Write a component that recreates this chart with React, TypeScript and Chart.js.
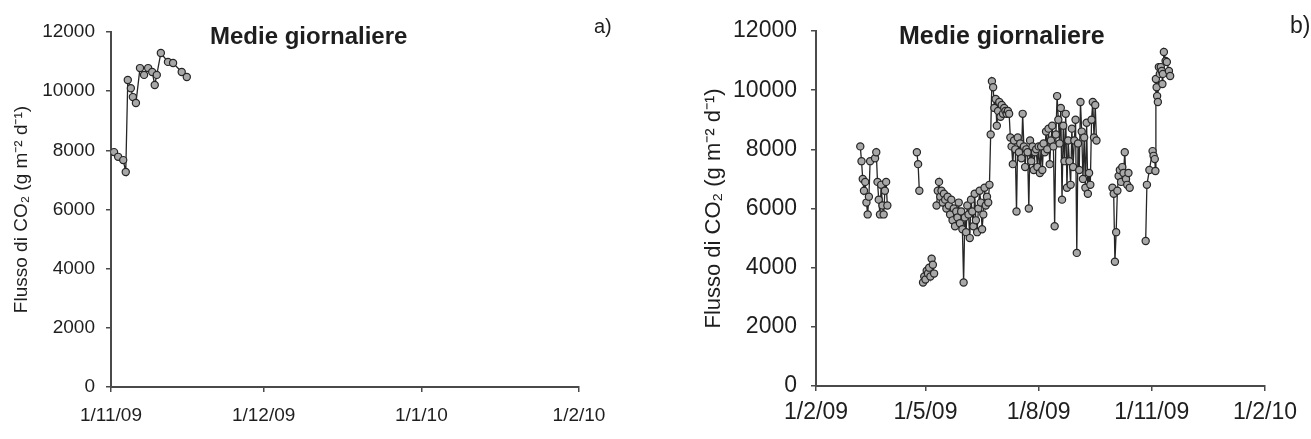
import React, { useEffect, useRef } from 'react';
import { Chart, registerables } from 'chart.js';

Chart.register(...registerables);

// ---------- axis ticks ----------
const yTickValues = [0, 2000, 4000, 6000, 8000, 10000, 12000];
// panel a: days since 1 Nov 2009
const leftTickDays = [0, 30, 61, 92];
const leftTickLabels = ['1/11/09', '1/12/09', '1/1/10', '1/2/10'];
// panel b: days since 1 Feb 2009
const rightTickDays = [0, 89, 181, 273, 365];
const rightTickLabels = ['1/2/09', '1/5/09', '1/8/09', '1/11/09', '1/2/10'];

// ---------- data ----------
// November 2009 daily means (days from 1 Nov 2009)
const novDays = [0.6, 1.4, 2.4, 2.9, 3.3, 3.9, 4.3, 4.9, 5.7, 6.5, 7.3, 8.1, 8.6, 9.0, 9.8, 11.2, 12.2, 13.9, 14.9];
const novValues = [7940, 7780, 7670, 7270, 10380, 10100, 9800, 9600, 10780, 10550, 10780, 10650, 10210, 10550, 11290, 10990, 10950, 10650, 10480];

// 2009 series, days from 1 Feb 2009
const marchDays = [36, 37, 38, 39, 40, 41, 42, 43, 44, 48, 49, 50, 51, 52, 53, 54, 55, 56, 57, 58];
const marchValues = [8100, 7600, 7000, 6600, 6900, 6200, 5800, 6400, 7600, 7700, 7900, 6900, 6300, 5800, 6800, 6100, 5800, 6600, 6900, 6100];

const lateAprilDays = [82, 83, 84];
const lateAprilValues = [7900, 7500, 6600];

const earlyMayDays = [87, 88, 89, 90, 91, 92, 93, 94, 95, 96];
const earlyMayValues = [3500, 3700, 3600, 3900, 3800, 4000, 3700, 4300, 4100, 3800];

const summerStartDay = 98;
const summerValues = [
  6100, 6600, 6900, 6400, 6600, 6200, 6500, 6300, 6000, 6400,
  6100, 5800, 6300, 5600, 6000, 5400, 5900, 5700, 6200, 5500,
  5900, 5300, 3500, 5700, 5200, 6100, 5800, 5000, 6300, 5900,
  5400, 6500, 5600, 5200, 6000, 6600, 6200, 5300, 5800, 6700,
  6100, 6400, 6200, 6800, 8500, 10300, 10100, 9400, 9700, 8800,
  9300, 9600, 9100, 9500, 9200, 9400, 9300, 9200, 9300, 9200,
  8400, 8100, 7500, 8300, 8000, 5900, 8400, 7900, 8200, 7700,
  9200, 8100, 7400, 8000, 7900, 6000, 8300, 7600, 8100, 7300,
  7900, 8000, 7400, 8100, 7200, 8100, 7300, 8200, 7900, 8600,
  8000, 8700, 7500, 8300, 8800, 8100, 5400, 8500, 9800, 9000,
  8200, 9400, 6300, 8800, 7600, 9200, 6700, 8300, 7600, 6800,
  8700, 7400, 8300, 9000, 4500, 8200, 7300, 9600, 8600, 7000,
  8400, 6700, 8900, 6500, 7200, 6800, 9000, 9600, 8400, 9500,
  8300,
];

const octoberDays = [241, 242, 243, 244, 245, 246, 247, 248, 249, 250, 251, 252, 253, 254, 255];
const octoberValues = [6700, 6500, 4200, 5200, 6600, 7100, 7300, 6900, 7400, 7200, 7900, 7000, 6800, 7200, 6700];

const lateOctDays = [268, 269, 271];
const lateOctValues = [4900, 6800, 7300];
const novOffset = 273; // 1 Nov 2009 in days from 1 Feb 2009

// ---------- helpers ----------
type Pt = { x: number; y: number | null };
const pts = (days: number[], vals: number[], off = 0): Pt[] =>
  days.map((d, i) => ({ x: d + off, y: vals[i] }));
const gap = (x: number): Pt => ({ x, y: null });

const leftData: Pt[] = pts(novDays, novValues);

const summerDays = summerValues.map((_, i) => summerStartDay + i);
const rightData: Pt[] = [
  ...pts(marchDays, marchValues),
  gap(70),
  ...pts(lateAprilDays, lateAprilValues),
  gap(85.5),
  ...pts(earlyMayDays, earlyMayValues),
  gap(97),
  ...pts(summerDays, summerValues),
  gap(235),
  ...pts(octoberDays, octoberValues),
  gap(262),
  ...pts(lateOctDays, lateOctValues),
  ...pts(novDays, novValues, novOffset),
];

const FONT = "'Liberation Sans', Arial, sans-serif";
const TXT = '#1e1e1e';
const AXIS = '#4a4a4a';

type Annot = { text: string; x: number; y: number; size: number; bold?: boolean; align?: CanvasTextAlign };

const annotPlugin = (items: Annot[]) => ({
  id: 'annot',
  afterDraw(chart: any) {
    const ctx = chart.ctx as CanvasRenderingContext2D;
    ctx.save();
    ctx.fillStyle = TXT;
    ctx.textBaseline = 'middle';
    items.forEach((it) => {
      ctx.font = `${it.bold ? 'bold ' : ''}${it.size}px ${FONT}`;
      ctx.textAlign = it.align || 'left';
      ctx.fillText(it.text, it.x, it.y);
    });
    ctx.restore();
  },
});

function buildConfig(p: {
  data: Pt[];
  xMax: number;
  tickDays: number[];
  tickLabels: string[];
  padLeft: number;
  padRight: number;
  padTop: number;
  yWidth: number;
  xHeight: number;
  tickSize: number;
  yPad: number;
  xPad: number;
  titleSize: number;
  annots: Annot[];
}): any {
  return {
    type: 'scatter',
    data: {
      datasets: [
        {
          data: p.data,
          showLine: true,
          spanGaps: false,
          borderColor: '#262626',
          borderWidth: 1.3,
          pointRadius: 3.6,
          pointBorderWidth: 1.2,
          pointBorderColor: '#262626',
          pointBackgroundColor: '#a8a8a8',
        },
      ],
    },
    options: {
      responsive: true,
      maintainAspectRatio: false,
      animation: false,
      layout: { padding: { left: p.padLeft, right: p.padRight, top: p.padTop, bottom: 0 } },
      plugins: { legend: { display: false }, tooltip: { enabled: false }, title: { display: false } },
      scales: {
        x: {
          type: 'linear',
          min: 0,
          max: p.xMax,
          afterBuildTicks: (scale: any) => {
            scale.ticks = p.tickDays.map((v) => ({ value: v }));
          },
          afterFit: (scale: any) => {
            scale.height = p.xHeight;
          },
          ticks: {
            autoSkip: false,
            maxRotation: 0,
            padding: p.xPad,
            color: TXT,
            font: { family: FONT, size: p.tickSize },
            callback: (v: number) => {
              const i = p.tickDays.indexOf(v);
              return i >= 0 ? p.tickLabels[i] : '';
            },
          },
          grid: { drawOnChartArea: false, drawTicks: true, tickLength: 5, color: AXIS, lineWidth: 1.5 },
          border: { color: AXIS, width: 2 },
        },
        y: {
          min: 0,
          max: 12000,
          afterBuildTicks: (scale: any) => {
            scale.ticks = yTickValues.map((v) => ({ value: v }));
          },
          afterFit: (scale: any) => {
            scale.width = p.yWidth;
          },
          ticks: {
            padding: p.yPad,
            color: TXT,
            font: { family: FONT, size: p.tickSize },
            callback: (v: number) => String(v),
          },
          grid: { drawOnChartArea: false, drawTicks: true, tickLength: 5, color: AXIS, lineWidth: 1.5 },
          border: { color: AXIS, width: 2 },
          title: {
            display: true,
            text: 'Flusso di CO\u2082 (g m\u207B\u00B2 d\u207B\u00B9)',
            color: TXT,
            font: { family: FONT, size: p.titleSize },
            padding: { top: 0, bottom: 0 },
          },
        },
      },
    },
    plugins: [annotPlugin(p.annots)],
  };
}

export default function App() {
  const leftRef = useRef<HTMLCanvasElement>(null);
  const rightRef = useRef<HTMLCanvasElement>(null);

  useEffect(() => {
    const left = new Chart(
      leftRef.current as HTMLCanvasElement,
      buildConfig({
        data: leftData,
        xMax: 92,
        tickDays: leftTickDays,
        tickLabels: leftTickLabels,
        padLeft: 10,
        padRight: 71,
        padTop: 32,
        yWidth: 101,
        xHeight: 52,
        tickSize: 19,
        yPad: 11,
        xPad: 12,
        titleSize: 19,
        annots: [
          { text: 'Medie giornaliere', x: 210, y: 37, size: 24, bold: true },
          { text: 'a)', x: 594, y: 27, size: 20 },
        ],
      })
    );
    const right = new Chart(
      rightRef.current as HTMLCanvasElement,
      buildConfig({
        data: rightData,
        xMax: 365,
        tickDays: rightTickDays,
        tickLabels: rightTickLabels,
        padLeft: 51,
        padRight: 46,
        padTop: 31,
        yWidth: 115,
        xHeight: 53,
        tickSize: 23,
        yPad: 14,
        xPad: 8,
        titleSize: 22,
        annots: [
          { text: 'Medie giornaliere', x: 249, y: 37, size: 25, bold: true },
          { text: 'b)', x: 640, y: 27, size: 23 },
        ],
      })
    );
    return () => {
      left.destroy();
      right.destroy();
    };
  }, []);

  return (
    <div style={{ position: 'absolute', left: 0, top: 0, width: 1311, height: 439, background: '#fff', overflow: 'hidden' }}>
      <div style={{ position: 'absolute', left: 0, top: 0, width: 650, height: 439 }}>
        <canvas ref={leftRef} />
      </div>
      <div style={{ position: 'absolute', left: 650, top: 0, width: 661, height: 439 }}>
        <canvas ref={rightRef} />
      </div>
    </div>
  );
}
